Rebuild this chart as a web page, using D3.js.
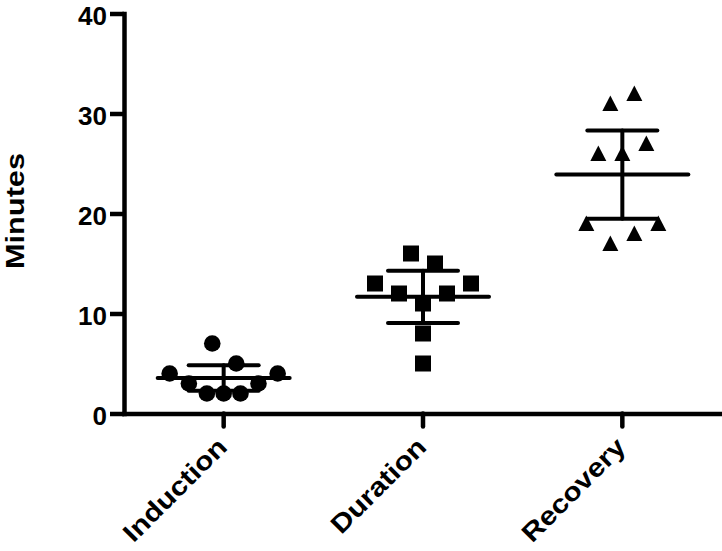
<!DOCTYPE html>
<html>
<head>
<meta charset="utf-8">
<script src="https://cdn.jsdelivr.net/npm/d3@7/dist/d3.min.js"></script>
<style>
  html, body { margin: 0; padding: 0; background: #fff; }
  svg { display: block; font-family: "Liberation Sans", Arial, sans-serif; font-weight: bold; }
</style>
</head>
<body>
<div id="chart"></div>
<script>
;(function (window, document, undefined) {

  'use strict';

  // data
  var categories = ['Induction', 'Duration', 'Recovery'];
  var yTicks = [0, 10, 20, 30, 40];

  var inductionValues = [7, 5, 4, 4, 3, 3, 2, 2, 2];
  var durationValues  = [16, 15, 13, 13, 12, 12, 11, 8, 5];
  var recoveryValues  = [32, 31, 27, 26, 26, 19, 19, 18, 17];

  // horizontal scatter slot of each point (column offset)
  var inductionSlots = [-0.95, 1.05, -4.5, 4.5, -2.9, 2.9, -1.4, 0, 1.4];
  var durationSlots  = [-1, 1, -4, 4, -2, 2, 0, 0, 0];
  var recoverySlots  = [1, -1, 2, -2, 0, -3, 3, 1, -1];

  var groups = [
    { key: categories[0], values: inductionValues, slots: inductionSlots, shape: 'circle' },
    { key: categories[1], values: durationValues,  slots: durationSlots,  shape: 'square' },
    { key: categories[2], values: recoveryValues,  slots: recoverySlots,  shape: 'triangle' }
  ];

  var T_CRIT = 2.306; // 95% CI, df = 8

  var width = 722, height = 551;
  var left = 124, right = 722, top = 13.5, bottom = 413.5;

  var svg = d3.select('#chart').append('svg')
    .attr('width', width)
    .attr('height', height);

  var x = d3.scaleBand().domain(categories).range([left, right]).padding(0);
  var y = d3.scaleLinear().domain([0, 40]).range([bottom, top]);
  var slot = d3.scaleLinear().domain([-1, 1]).range([-12, 12]);

  var cx = function (k) { return x(k) + x.bandwidth() / 2; };

  // points
  groups.forEach(function (g) {
    var pts = g.values.map(function (v, i) {
      return { x: cx(g.key) + slot(g.slots[i]), y: y(v) };
    });
    var sel = svg.append('g').attr('class', 'points').selectAll('path')
      .data(pts).enter();

    if (g.shape === 'circle') {
      sel.append('circle')
        .attr('cx', function (d) { return d.x; })
        .attr('cy', function (d) { return d.y; })
        .attr('r', 8.3)
        .attr('fill', '#000');
    } else if (g.shape === 'square') {
      sel.append('rect')
        .attr('x', function (d) { return d.x - 8; })
        .attr('y', function (d) { return d.y - 8; })
        .attr('width', 16)
        .attr('height', 16)
        .attr('fill', '#000');
    } else {
      sel.append('path')
        .attr('d', function (d) {
          return 'M' + d.x + ',' + (d.y - 8) +
                 'L' + (d.x + 8) + ',' + (d.y + 7.5) +
                 'L' + (d.x - 8) + ',' + (d.y + 7.5) + 'Z';
        })
        .attr('fill', '#000');
    }
  });

  // mean and 95% CI
  groups.forEach(function (g) {
    var m = d3.mean(g.values);
    var ci = T_CRIT * d3.deviation(g.values) / Math.sqrt(g.values.length);
    var c = cx(g.key);
    var eg = svg.append('g')
      .attr('stroke', '#000')
      .attr('stroke-width', 4)
      .attr('stroke-linecap', 'round');

    eg.append('line')
      .attr('x1', c).attr('x2', c)
      .attr('y1', y(m - ci)).attr('y2', y(m + ci));
    eg.append('line')
      .attr('x1', c - 35).attr('x2', c + 35)
      .attr('y1', y(m + ci)).attr('y2', y(m + ci));
    eg.append('line')
      .attr('x1', c - 35).attr('x2', c + 35)
      .attr('y1', y(m - ci)).attr('y2', y(m - ci));
    eg.append('line')
      .attr('x1', c - 66).attr('x2', c + 66)
      .attr('y1', y(m)).attr('y2', y(m));
  });

  // axes
  var yAxis = svg.append('g')
    .attr('transform', 'translate(' + left + ',0)')
    .call(d3.axisLeft(y).tickValues(yTicks).tickSize(14).tickSizeOuter(0).tickPadding(3));

  var xAxis = svg.append('g')
    .attr('transform', 'translate(0,' + bottom + ')')
    .call(d3.axisBottom(x).tickSize(13).tickSizeOuter(0));

  [yAxis, xAxis].forEach(function (a) {
    a.select('.domain')
      .attr('stroke-width', 4.5)
      .attr('stroke-linecap', 'square');
    a.selectAll('.tick line')
      .attr('stroke-width', 4.5);
    a.selectAll('text')
      .attr('fill', '#000')
      .style('font-size', '26px')
      .style('font-weight', 'bold');
  });

  yAxis.selectAll('text').attr('dy', '0.42em');

  xAxis.selectAll('.tick line').attr('stroke-linecap', 'round');

  xAxis.selectAll('text')
    .attr('y', 0)
    .attr('dy', 0)
    .attr('text-anchor', 'end')
    .attr('transform', 'translate(5,35) rotate(-45) scale(1.15,1)')
    .style('font-size', '26px');

  svg.append('text')
    .attr('text-anchor', 'middle')
    .attr('transform', 'translate(24,211) rotate(-90) scale(1.23,1)')
    .style('font-size', '25px')
    .attr('fill', '#000')
    .text('Minutes');

})(window, document);
</script>
</body>
</html>
